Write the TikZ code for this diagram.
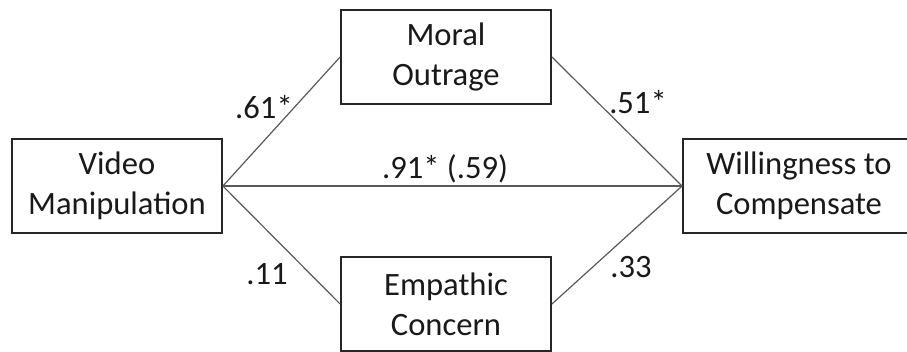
\documentclass[tikz,border=0pt]{standalone}
\usepackage{fontspec}
\setmainfont{Carlito}
\begin{document}
\begin{tikzpicture}[x=1pt,y=-1pt,
  box/.style={draw=black!85,line width=1.8pt,inner sep=0pt,minimum height=94pt,
    align=center,font=\fontsize{32.6}{40}\selectfont,text=black!90},
  conn/.style={draw=black!65,line width=1.2pt},
  lbl/.style={anchor=base,inner sep=0pt,font=\fontsize{32.6}{40}\selectfont,text=black!90}]
\useasboundingbox (0,0) rectangle (907,351);
\clip (0,0) rectangle (907,351);
\fill[white] (0,0) rectangle (907,351);
\node[box,minimum width=210pt] (vm) at (117,186) {Video\\Manipulation};
\node[box,minimum width=210pt] (mo) at (446,57) {Moral\\Outrage};
\node[box,minimum width=210pt] (ec) at (446,304) {Empathic\\Concern};
\node[box,minimum width=232pt] (wc) at (799,186) {Willingness to\\Compensate};
\draw[conn] (vm.east) -- (mo.west);
\draw[conn] (vm.east) -- (ec.west);
\draw[conn] (vm.east) -- (wc.west);
\draw[conn] (mo.east) -- (wc.west);
\draw[conn] (ec.east) -- (wc.west);
\node[lbl] (l61) at (264,118) {.61*};
\node[lbl] (l51) at (638,113) {.51*};
\node[lbl] (l91) at (445,178) {.91* (.59)};
\node[lbl] (l11) at (267,284) {.11};
\node[lbl] (l33) at (631,277) {.33};
\end{tikzpicture}
\end{document}
